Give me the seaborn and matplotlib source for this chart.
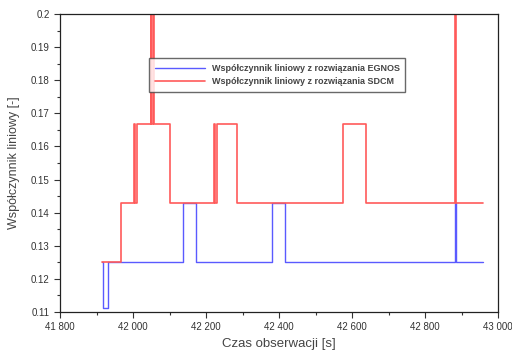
import matplotlib
matplotlib.use('Agg')
import matplotlib.pyplot as plt
from matplotlib.ticker import FuncFormatter, MultipleLocator
import pandas as pd
import seaborn as sns

# step change points (time [s]) and coefficient values
egnos_t = [41914, 41918, 41931, 42136, 42173, 42381, 42417, 42882, 42885, 42960]
egnos_v = [0.125, 0.1111, 0.125, 0.1429, 0.125, 0.1429, 0.125, 0.1429, 0.125, 0.125]

sdcm_t = [41914, 41966, 42003, 42006, 42012, 42048, 42050, 42055, 42057, 42101,
          42222, 42225, 42231, 42284, 42576, 42638, 42882, 42885, 42960]
sdcm_v = [0.125, 0.1429, 0.1667, 0.1429, 0.1667, 0.25, 0.1667, 0.25, 0.1667, 0.1429,
          0.1667, 0.1429, 0.1667, 0.1429, 0.1667, 0.1429, 0.25, 0.1429, 0.1429]

labels = ['Współczynnik liniowy z rozwiązania EGNOS',
          'Współczynnik liniowy z rozwiązania SDCM']

egnos = pd.DataFrame({'t': egnos_t, 'v': egnos_v})
sdcm = pd.DataFrame({'t': sdcm_t, 'v': sdcm_v})

sns.set_style('ticks')
plt.rcParams['font.family'] = ['Liberation Sans', 'DejaVu Sans']

fig = plt.figure(figsize=(5.12, 3.51), dpi=100)
ax = fig.add_axes([60 / 512, 1 - 312 / 351, 438 / 512, 298 / 351])

# SDCM drawn over EGNOS where they coincide
sns.lineplot(data=egnos, x='t', y='v', estimator=None, sort=False, color='#5a5aff',
             linewidth=1.0, drawstyle='steps-post', label=labels[0], ax=ax)
sns.lineplot(data=sdcm, x='t', y='v', estimator=None, sort=False, color='#ff5a5a',
             linewidth=1.2, drawstyle='steps-post', label=labels[1], ax=ax)
for ln in ax.get_lines():
    if ln.get_label() == labels[1]:
        ln.set_zorder(5)

ax.set_xlim(41800, 43000)
ax.set_ylim(0.11, 0.2)
ax.xaxis.set_major_locator(MultipleLocator(200))
ax.xaxis.set_minor_locator(MultipleLocator(100))
ax.yaxis.set_major_locator(MultipleLocator(0.01))
ax.yaxis.set_minor_locator(MultipleLocator(0.005))
ax.xaxis.set_major_formatter(FuncFormatter(lambda x, p: f'{x:,.0f}'.replace(',', ' ')))
ax.yaxis.set_major_formatter(FuncFormatter(lambda y, p: f'{y:g}'))
ax.tick_params(which='major', length=4, width=0.8, labelsize=7, colors='#333333')
ax.tick_params(which='minor', length=2, width=0.8, colors='#333333')
for s in ax.spines.values():
    s.set_color('#222222')
    s.set_linewidth(0.9)
    s.set_zorder(6)

ax.set_xlabel('Czas obserwacji [s]', fontsize=9.5, color='#444444', labelpad=4)
ax.set_ylabel('Współczynnik liniowy [-]', fontsize=9, color='#444444', labelpad=8)

leg = ax.legend(loc='upper left', bbox_to_anchor=(0.194, 0.866), fontsize=6.5,
                frameon=True, fancybox=False, edgecolor='#444444',
                handlelength=5.5, borderpad=0.6, labelspacing=0.5)
leg.set_zorder(10)
for txt in leg.get_texts():
    txt.set_fontweight('bold')
    txt.set_color('#444444')

fig.savefig('out.png', dpi=100)
